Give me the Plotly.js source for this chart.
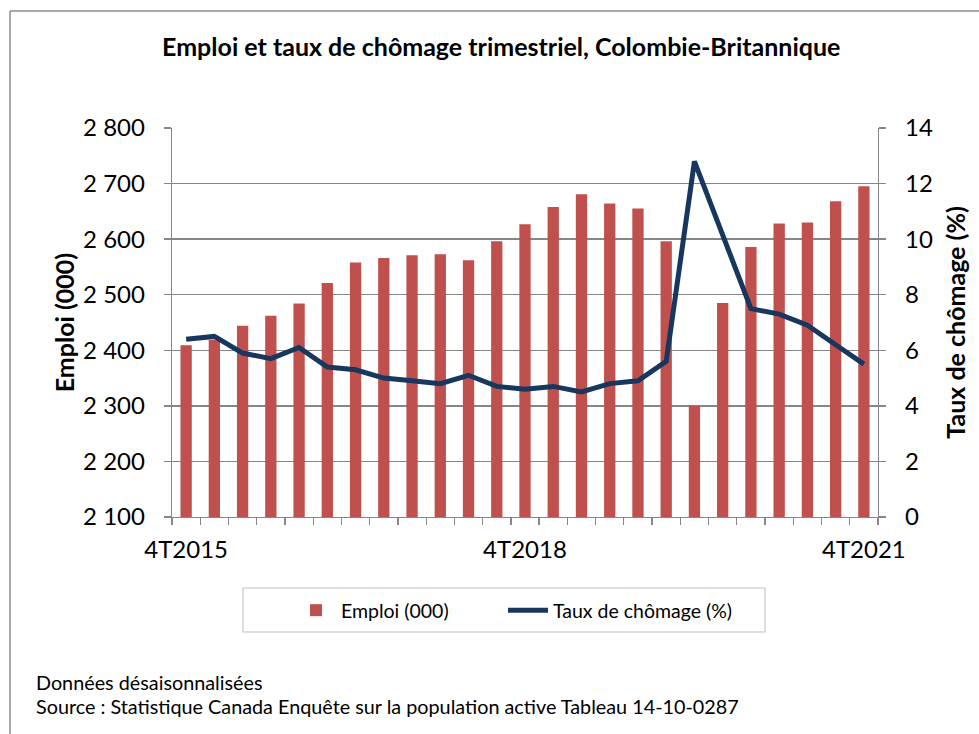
<!DOCTYPE html>
<html>
<head>
<meta charset="utf-8">
<script src="https://cdn.plot.ly/plotly-3.0.1.min.js"></script>
<style>
html,body{margin:0;padding:0;background:#fff;}
#chart{width:979px;height:734px;}
</style>
</head>
<body>
<div id="chart"></div>
<script>
// ---- Data ----
const categories = [
  "4T2015","1T2016","2T2016","3T2016","4T2016",
  "1T2017","2T2017","3T2017","4T2017",
  "1T2018","2T2018","3T2018","4T2018",
  "1T2019","2T2019","3T2019","4T2019",
  "1T2020","2T2020","3T2020","4T2020",
  "1T2021","2T2021","3T2021","4T2021"
];
const emploi = [
  2409, 2419, 2444, 2462, 2484,
  2521, 2558, 2566, 2571, 2573,
  2562, 2596, 2627, 2658, 2681,
  2664, 2655, 2596, 2300, 2485,
  2586, 2628, 2630, 2668, 2695
];
const tauxChomage = [
  6.4, 6.5, 5.9, 5.7, 6.1,
  5.4, 5.3, 5.0, 4.9, 4.8,
  5.1, 4.7, 4.6, 4.7, 4.5,
  4.8, 4.9, 5.6, 12.8, 10.1,
  7.5, 7.3, 6.9, 6.2, 5.5
];
const tickLabels = ["4T2015","4T2018","4T2021"];
const yLeftTicks = [2100,2200,2300,2400,2500,2600,2700,2800];
const yLeftTickText = ["2 100","2 200","2 300","2 400","2 500","2 600","2 700","2 800"];

const FONT = "Lato, 'Open Sans', sans-serif";
const GRID = "#868686";

const traces = [
  {
    type: "bar",
    name: "Emploi (000)",
    x: categories,
    y: emploi,
    marker: {color: "#C0504D"},
    yaxis: "y",
    legendwidth: 157
  },
  {
    type: "scatter",
    mode: "lines",
    name: "Taux de chômage (%)",
    x: categories,
    y: tauxChomage,
    line: {color: "#17375E", width: 5},
    yaxis: "y2",
    legendwidth: 205
  }
];

// plot area pixel geometry
const L = 172, R = 101, T = 128, B = 217;
const W = 979 - L - R, H = 734 - T - B;
const px = x => (x - L) / W;
const py = y => (734 - B - y) / H;

const layout = {
  width: 979, height: 734,
  margin: {l: L, r: R, t: T, b: B, pad: 0},
  paper_bgcolor: "#fff", plot_bgcolor: "#fff",
  font: {family: FONT, color: "#000"},
  bargap: 0.6,
  showlegend: true,
  title: {
    text: "<b>Emploi et taux de chômage trimestriel, Colombie-Britannique</b>",
    font: {family: FONT, size: 25, color: "#000"},
    xref: "container", x: 0.512, xanchor: "center",
    yref: "container", y: 1 - 47/734, yanchor: "middle"
  },
  xaxis: {
    type: "category",
    tickmode: "array",
    tickvals: categories,
    ticktext: categories.map(c => tickLabels.includes(c) ? c : ""),
    tickson: "boundaries",
    ticks: "outside", ticklen: 7, tickcolor: GRID, tickwidth: 1.3,
    showline: true, linecolor: GRID, linewidth: 1.3,
    showgrid: false, zeroline: false,
    tickangle: 0,
    tickfont: {family: FONT, size: 24, color: "#000"},
    ticklabelstandoff: 11,
    range: [-0.5, categories.length - 0.5]
  },
  yaxis: {
    range: [2100, 2800],
    tickmode: "array", tickvals: yLeftTicks, ticktext: yLeftTickText,
    ticks: "outside", ticklen: 7, tickcolor: GRID, tickwidth: 1.3,
    showline: true, linecolor: GRID, linewidth: 1.3,
    showgrid: true, gridcolor: GRID, gridwidth: 1.3,
    zeroline: false,
    tickfont: {family: FONT, size: 24, color: "#000"},
    ticklabelstandoff: 14,
    title: {text: "<b>Emploi (000)</b>", font: {family: FONT, size: 25, color: "#000"}, standoff: 1}
  },
  yaxis2: {
    overlaying: "y", side: "right",
    range: [0, 14], dtick: 2, tick0: 0,
    ticks: "outside", ticklen: 7, tickcolor: GRID, tickwidth: 1.3,
    showline: true, linecolor: GRID, linewidth: 1.3,
    showgrid: false, zeroline: false,
    tickfont: {family: FONT, size: 24, color: "#000"},
    ticklabelstandoff: 14,
    title: {text: "<b>Taux de chômage (%)</b>", font: {family: FONT, size: 25, color: "#000"}, standoff: 15}
  },
  legend: {
    orientation: "h",
    xref: "paper", yref: "paper",
    x: px(291), xanchor: "left",
    y: py(591), yanchor: "top",
    borderwidth: 0, bgcolor: "rgba(0,0,0,0)",
    font: {family: FONT, size: 19.5, color: "#000"},
    itemwidth: 40,
    traceorder: "normal"
  },
  shapes: [
    {type: "line", xref: "paper", yref: "paper", x0: px(10), x1: px(979), y0: py(11), y1: py(11), line: {color: "#8C8C8C", width: 1.5}},
    {type: "line", xref: "paper", yref: "paper", x0: px(10), x1: px(10), y0: py(11), y1: py(734), line: {color: "#8C8C8C", width: 1.5}},
    {type: "rect", xref: "paper", yref: "paper", x0: px(243), x1: px(765), y0: py(588), y1: py(632), line: {color: "#BFBFBF", width: 1}, fillcolor: "rgba(0,0,0,0)"}
  ],
  annotations: [
    {text: "Données désaisonnalisées", xref: "paper", yref: "paper", x: px(34), y: py(682), xanchor: "left", yanchor: "middle", showarrow: false, font: {family: FONT, size: 19.8, color: "#000"}},
    {text: "Source : Statistique Canada Enquête sur la population active Tableau 14-10-0287", xref: "paper", yref: "paper", x: px(34), y: py(706), xanchor: "left", yanchor: "middle", showarrow: false, font: {family: FONT, size: 19.8, color: "#000"}}
  ]
};

Plotly.newPlot("chart", traces, layout, {displayModeBar: false, staticPlot: true});
</script>
</body>
</html>
